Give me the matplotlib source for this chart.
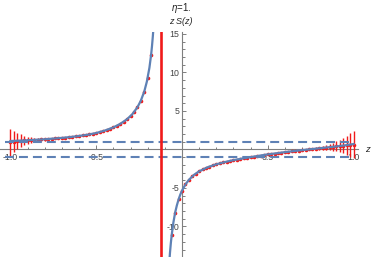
import matplotlib
matplotlib.use("Agg")
import matplotlib.pyplot as plt
from matplotlib.ticker import MultipleLocator, FixedLocator

plt.rcParams['font.family'] = ['Liberation Sans', 'DejaVu Sans']
plt.rcParams['mathtext.fontset'] = 'custom'
plt.rcParams['mathtext.it'] = 'Liberation Sans:italic'
plt.rcParams['mathtext.rm'] = 'Liberation Sans'

# ---------------- data ----------------
pole_z = -0.12
band_levels = [1.0, -1.0]

pts_left_z = [-1.00, -0.98, -0.96, -0.94, -0.92, -0.90, -0.88, -0.86, -0.84, -0.82,
              -0.80, -0.78, -0.76, -0.74, -0.72, -0.70, -0.68, -0.66, -0.64, -0.62,
              -0.60, -0.58, -0.56, -0.54, -0.52, -0.50, -0.48, -0.46, -0.44, -0.42,
              -0.40, -0.38, -0.36, -0.34, -0.32, -0.30, -0.28, -0.26, -0.24, -0.22,
              -0.20, -0.18]
pts_left_y = [0.90, 1.02, 1.10, 1.15, 1.17, 1.19, 1.22, 1.24, 1.27, 1.30,
              1.32, 1.36, 1.39, 1.42, 1.46, 1.50, 1.54, 1.59, 1.64, 1.69,
              1.75, 1.81, 1.88, 1.95, 2.04, 2.13, 2.25, 2.38, 2.53, 2.69,
              2.86, 3.07, 3.32, 3.60, 3.93, 4.33, 4.83, 5.47, 6.33, 7.52,
              9.33, 12.3]
pts_left_err = [1.70, 1.35, 1.05, 0.80, 0.62, 0.48, 0.38, 0.30, 0.25, 0.20,
                0.17, 0.15, 0.14, 0.13, 0.12, 0.12, 0.12, 0.12, 0.12, 0.12,
                0.12, 0.12, 0.12, 0.12, 0.12, 0.12, 0.12, 0.12, 0.12, 0.12,
                0.12, 0.12, 0.12, 0.12, 0.12, 0.12, 0.12, 0.12, 0.12, 0.12,
                0.12, 0.12]

pts_right_z = [-0.06, -0.04, -0.02, 0.00, 0.02, 0.04, 0.06, 0.08, 0.10, 0.12,
               0.14, 0.16, 0.18, 0.20, 0.22, 0.24, 0.26, 0.28, 0.30, 0.32,
               0.34, 0.36, 0.38, 0.40, 0.42, 0.44, 0.46, 0.48, 0.50, 0.52,
               0.54, 0.56, 0.58, 0.60, 0.62, 0.64, 0.66, 0.68, 0.70, 0.72,
               0.74, 0.76, 0.78, 0.80, 0.82, 0.84, 0.86, 0.88, 0.90, 0.92,
               0.94, 0.96, 0.98, 1.00]
pts_right_y = [-11.1, -8.2, -6.5, -5.35, -4.55, -3.95, -3.48, -3.13, -2.84, -2.60,
               -2.39, -2.22, -2.07, -1.93, -1.81, -1.69, -1.59, -1.49, -1.39, -1.31,
               -1.23, -1.15, -1.08, -1.00, -0.93, -0.87, -0.80, -0.74, -0.64, -0.58,
               -0.53, -0.47, -0.41, -0.35, -0.30, -0.24, -0.19, -0.14, -0.09, -0.04,
               0.01, 0.06, 0.10, 0.15, 0.20, 0.24, 0.29, 0.34, 0.39, 0.44,
               0.50, 0.54, 0.58, 0.60]
pts_right_err = [0.12, 0.12, 0.12, 0.12, 0.12, 0.12, 0.12, 0.12, 0.12, 0.12,
                 0.12, 0.12, 0.12, 0.12, 0.12, 0.12, 0.12, 0.12, 0.12, 0.12,
                 0.12, 0.12, 0.12, 0.12, 0.12, 0.12, 0.12, 0.12, 0.12, 0.12,
                 0.12, 0.12, 0.12, 0.12, 0.12, 0.12, 0.12, 0.12, 0.12, 0.13,
                 0.14, 0.16, 0.19, 0.23, 0.28, 0.34, 0.42, 0.52, 0.65, 0.80,
                 1.00, 1.20, 1.50, 1.75]

curve_left_z = [-1.0, -0.95, -0.9, -0.85, -0.8, -0.75, -0.7, -0.65, -0.6, -0.55,
                -0.5, -0.45, -0.4, -0.36, -0.32, -0.29, -0.26, -0.24, -0.22, -0.205,
                -0.19, -0.18, -0.175, -0.17, -0.166]
curve_left_y = [1.09, 1.14, 1.19, 1.26, 1.32, 1.41, 1.50, 1.61, 1.75, 1.91,
                2.13, 2.45, 2.86, 3.32, 3.93, 4.57, 5.47, 6.33, 7.52, 8.8,
                10.6, 12.3, 13.4, 14.7, 15.9]

curve_right_z = [-0.075, -0.07, -0.065, -0.06, -0.05, -0.04, -0.03, -0.02, -0.01, 0.0,
                 0.02, 0.04, 0.07, 0.1, 0.15, 0.2, 0.25, 0.3, 0.35, 0.4,
                 0.45, 0.5, 0.55, 0.6, 0.65, 0.7, 0.75, 0.8, 0.85, 0.9,
                 0.95, 1.0]
curve_right_y = [-14.9, -13.4, -12.15, -11.1, -9.46, -8.2, -7.27, -6.5, -5.87, -5.35,
                 -4.55, -3.95, -3.3, -2.84, -2.31, -1.93, -1.64, -1.39, -1.19, -1.0,
                 -0.82, -0.64, -0.5, -0.35, -0.22, -0.09, 0.03, 0.15, 0.27, 0.39,
                 0.53, 0.7]

x_major = [-1.0, -0.5, 0.5, 1.0]
x_labels = ["-1.0", "-0.5", "0.5", "1.0"]
y_major = [-10, -5, 5, 10, 15]
y_labels = ["-10", "-5", "5", "10", "15"]

# ---------------- figure ----------------
W, H = 374, 257
fig = plt.figure(figsize=(W / 100, H / 100), dpi=100)
ax = fig.add_axes([0.0, 0.0, 358 / W, (H - 32) / H])
ax.set_xlim(-1.061, 1.026)
ax.set_ylim(-13.97, 15.25)

blue = '#5e81b5'
red = '#f01a1a'
axcol = '#7f7f7f'

# error bars (behind the curve)
for zs, ys, es in [(pts_left_z, pts_left_y, pts_left_err),
                   (pts_right_z, pts_right_y, pts_right_err)]:
    ax.errorbar(zs, ys, yerr=es, fmt='o', color=red, ms=2.6, mew=0,
                elinewidth=1.0, capsize=2.2, capthick=1.0, zorder=3, clip_on=True)

# fitted curve
ax.plot(curve_left_z, curve_left_y, color=blue, lw=1.6, zorder=4)
ax.plot(curve_right_z, curve_right_y, color=blue, lw=1.6, zorder=4)

# dashed band lines
for lev in band_levels:
    ax.plot([-1.03, 1.0], [lev, lev], color=blue, lw=1.5,
            linestyle=(0, (4.3, 2.4)), zorder=4)

# pole line
ax.axvline(pole_z, color=red, lw=1.9, zorder=5)

# axes styling
for s in ['top', 'right']:
    ax.spines[s].set_visible(False)
ax.spines['left'].set_position(('data', 0))
ax.spines['bottom'].set_position(('data', 0))
for s in ['left', 'bottom']:
    ax.spines[s].set_color(axcol)
    ax.spines[s].set_linewidth(0.8)

ax.xaxis.set_major_locator(FixedLocator(x_major))
ax.set_xticklabels(x_labels)
ax.xaxis.set_minor_locator(MultipleLocator(0.1))
ax.yaxis.set_major_locator(FixedLocator(y_major))
ax.set_yticklabels(y_labels)
ax.yaxis.set_minor_locator(MultipleLocator(1))

ax.tick_params(which='both', direction='in', color=axcol, width=0.7,
               labelsize=6.3, labelcolor='#444444')
ax.tick_params(which='major', length=3.2)
ax.tick_params(which='minor', length=1.8)
ax.tick_params(axis='x', pad=2.5)
ax.tick_params(axis='y', pad=2.0)
ax.patch.set_visible(False)

# labels
fig.text(181 / W, 1 - 8 / H, r"$\mathit{\eta}$=1.", ha='center', va='center',
         fontsize=7, color='#222222')
fig.text(181 / W, 1 - 21 / H, "z S(z)", ha='center', va='center',
         fontsize=6.5, style='italic', color='#222222')
fig.text(367 / W, 1 - 149 / H, "z", ha='center', va='center',
         fontsize=6.8, style='italic', color='#222222')

fig.savefig("out.png", dpi=100)
